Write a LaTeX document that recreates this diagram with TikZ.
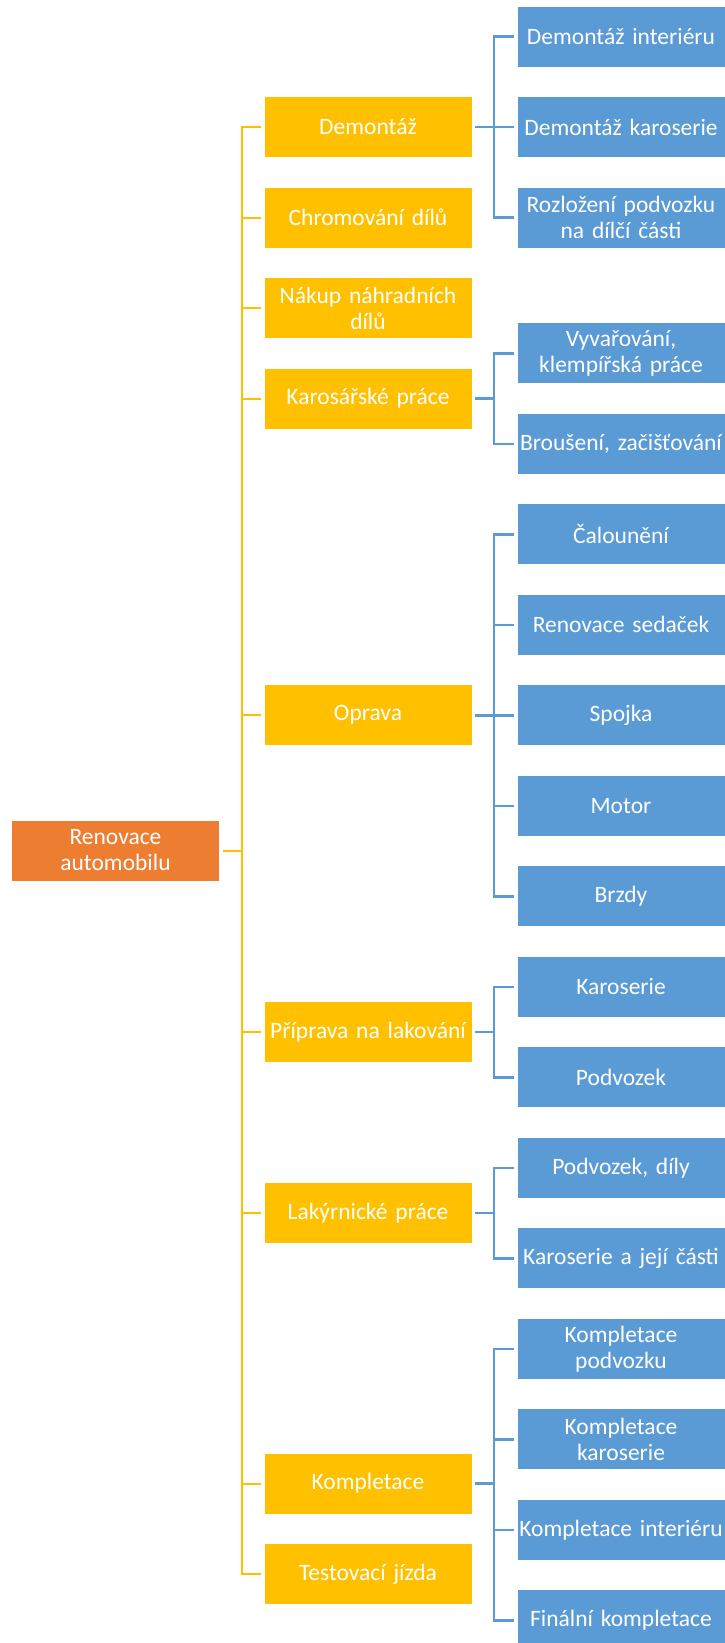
\documentclass[tikz,border=0pt]{standalone}
\usepackage{fontspec}
\setmainfont{Carlito}
\definecolor{ygold}{HTML}{FFC000}
\definecolor{orng}{HTML}{ED7D31}
\definecolor{blu}{HTML}{5B9BD5}
\begin{document}
\begin{tikzpicture}[x=1pt,y=-1pt,
  box/.style={minimum width=208pt,minimum height=61pt,inner sep=0pt,text width=206pt,align=center,
    text=white,font=\fontsize{23.5}{26}\selectfont,draw=white,line width=0.8pt},
  rootbox/.style={box,fill=orng},
  ybox/.style={box,fill=ygold},
  bbox/.style={box,fill=blu},
  yline/.style={draw=ygold,line width=2pt,shorten <=3pt,shorten >=3pt},
  bline/.style={draw=blu,line width=2.5pt,shorten <=3pt,shorten >=3pt}]
\useasboundingbox (0,0) rectangle (725,1643);
% root
\node[rootbox] (root) at (115.5,850.5) {Renovace\\automobilu};
% yellow level
\node[ybox] (y1) at (368,127) {Demontáž};
\node[ybox] (y2) at (368,217.5) {Chromování dílů};
\node[ybox] (y3) at (368,308) {Nákup náhradních\\dílů};
\node[ybox] (y4) at (368,398.5) {Karosářské práce};
\node[ybox] (y5) at (368,715.25) {Oprava};
\node[ybox] (y6) at (368,1032) {Příprava na lakování};
\node[ybox] (y7) at (368,1213) {Lakýrnické práce};
\node[ybox] (y8) at (368,1483.5) {Kompletace};
\node[ybox] (y9) at (368,1574) {Testovací jízda};
% blue level
\node[bbox] (b1) at (621,36.5) {Demontáž interiéru};
\node[bbox] (b2) at (621,127) {Demontáž karoserie};
\node[bbox] (b3) at (621,217.5) {Rozložení podvozku\\na dílčí části};
\node[bbox] (b4) at (621,353.25) {Vyvařování,\\klempířská práce};
\node[bbox] (b5) at (621,443.75) {Broušení, začišťování};
\node[bbox] (b6) at (621,534.25) {Čalounění};
\node[bbox] (b7) at (621,624.75) {Renovace sedaček};
\node[bbox] (b8) at (621,715.25) {Spojka};
\node[bbox] (b9) at (621,805.75) {Motor};
\node[bbox] (b10) at (621,896.25) {Brzdy};
\node[bbox] (b11) at (621,986.75) {Karoserie};
\node[bbox] (b12) at (621,1077.25) {Podvozek};
\node[bbox] (b13) at (621,1167.75) {Podvozek, díly};
\node[bbox] (b14) at (621,1258.25) {Karoserie a její části};
\node[bbox] (b15) at (621,1348.75) {Kompletace\\podvozku};
\node[bbox] (b16) at (621,1439.25) {Kompletace\\karoserie};
\node[bbox] (b17) at (621,1529.75) {Kompletace interiéru};
\node[bbox] (b18) at (621,1620.25) {Finální kompletace};
% trunk x positions
\coordinate (tx) at (241.5,0);
\coordinate (bx) at (494,0);
% yellow connectors
\foreach \c in {y1,y2,y3,y4,y5,y6,y7,y8,y9}
  \draw[yline] (root.east) -- (root.east -| tx) |- (\c.west);
% blue connectors
\foreach \p/\c in {y1/b1,y1/b2,y1/b3,y4/b4,y4/b5,y5/b6,y5/b7,y5/b8,y5/b9,y5/b10,
                   y6/b11,y6/b12,y7/b13,y7/b14,y8/b15,y8/b16,y8/b17,y8/b18}
  \draw[bline] (\p.east) -- (\p.east -| bx) |- (\c.west);
\end{tikzpicture}
\end{document}
